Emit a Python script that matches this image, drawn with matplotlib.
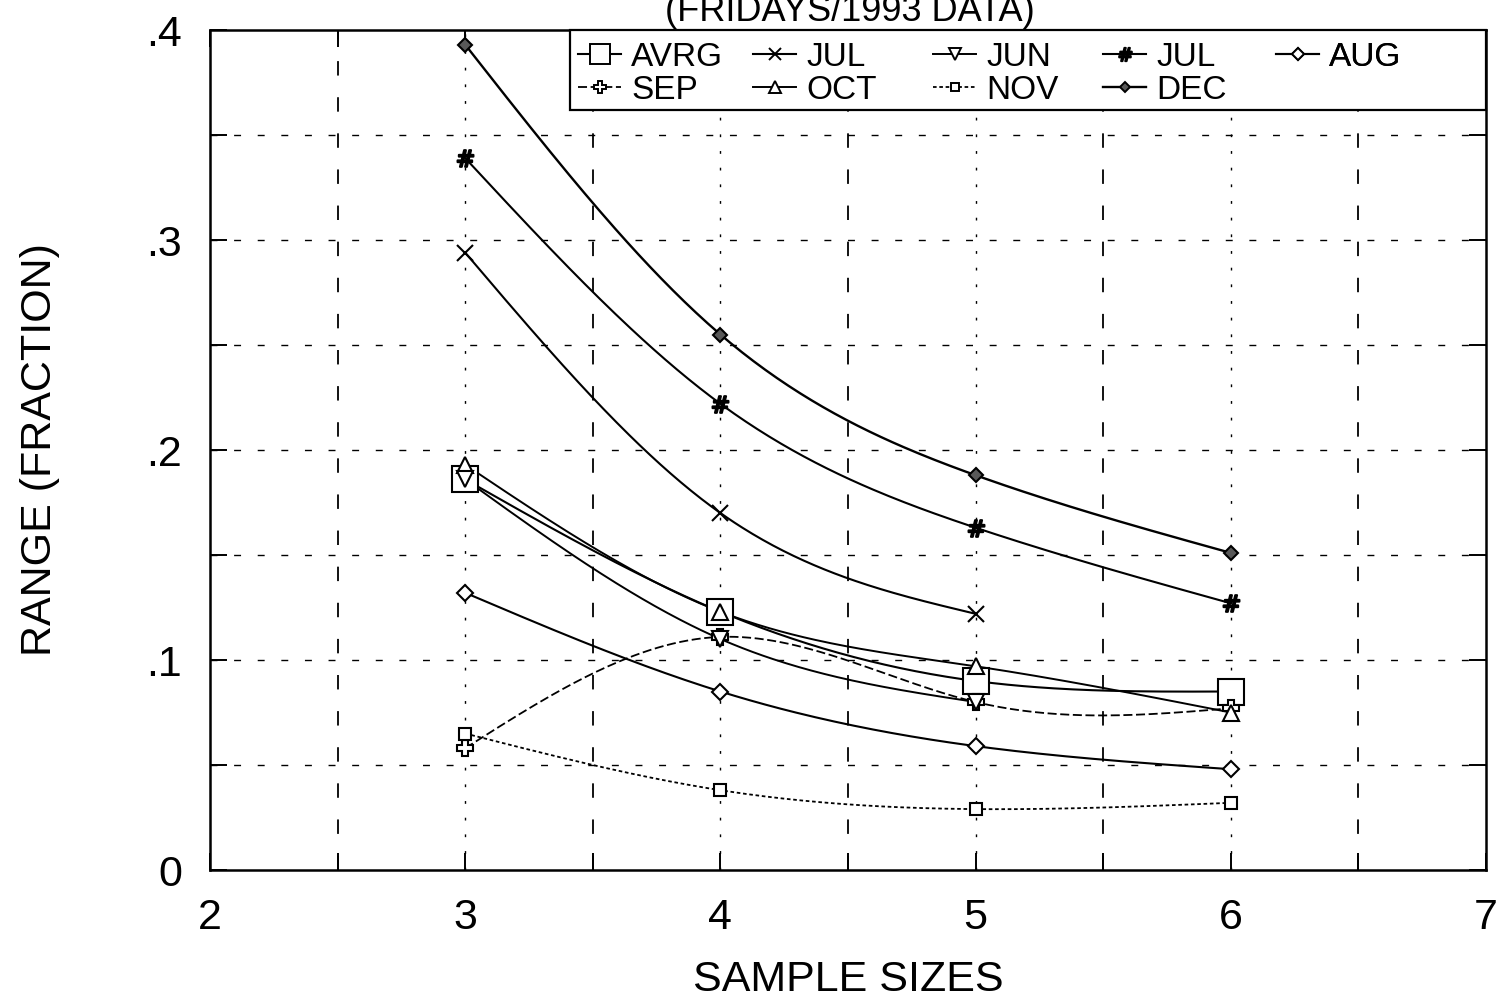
import numpy as np
import matplotlib
matplotlib.use("Agg")
import matplotlib.pyplot as plt
from matplotlib.lines import Line2D
from matplotlib.patches import Rectangle

# ---- data -------------------------------------------------------------
sizes_full = [3, 4, 5, 6]
sizes_short = [3, 4, 5]

avrg = [0.186, 0.123, 0.090, 0.085]
jul_x = [0.294, 0.170, 0.122]
jun = [0.186, 0.110, 0.080]
jul_h = [0.339, 0.222, 0.163, 0.127]
aug = [0.132, 0.085, 0.059, 0.048]
sep = [0.058, 0.111, 0.080, 0.077]
oct_ = [0.193, 0.123, 0.097, 0.075]
nov = [0.065, 0.038, 0.029, 0.032]
dec = [0.393, 0.255, 0.188, 0.151]

x_ticks = [2, 3, 4, 5, 6, 7]
y_ticks = [0.0, 0.1, 0.2, 0.3, 0.4]
y_tick_labels = ["0", ".1", ".2", ".3", ".4"]

plt.rcParams["font.family"] = ["Liberation Sans", "DejaVu Sans"]


def natural_spline(x, y, n=200):
    """Smooth natural cubic spline through the given points."""
    x = np.asarray(x, float)
    y = np.asarray(y, float)
    k = len(x)
    if k < 3:
        xs = np.linspace(x[0], x[-1], n)
        return xs, np.interp(xs, x, y)
    h = np.diff(x)
    A = np.zeros((k, k))
    b = np.zeros(k)
    A[0, 0] = A[-1, -1] = 1.0
    for i in range(1, k - 1):
        A[i, i - 1] = h[i - 1]
        A[i, i] = 2 * (h[i - 1] + h[i])
        A[i, i + 1] = h[i]
        b[i] = 3 * ((y[i + 1] - y[i]) / h[i] - (y[i] - y[i - 1]) / h[i - 1])
    c = np.linalg.solve(A, b)
    xs = np.linspace(x[0], x[-1], n)
    ys = np.empty_like(xs)
    for j, xv in enumerate(xs):
        i = min(np.searchsorted(x, xv, side="right") - 1, k - 2)
        dx = xv - x[i]
        bi = (y[i + 1] - y[i]) / h[i] - h[i] * (2 * c[i] + c[i + 1]) / 3
        di = (c[i + 1] - c[i]) / (3 * h[i])
        ys[j] = y[i] + bi * dx + c[i] * dx ** 2 + di * dx ** 3
    return xs, ys


W, H = 1504, 1006
fig = plt.figure(figsize=(W / 100, H / 100), dpi=100)
ax = fig.add_axes([210 / W, 1 - 870 / H, 1276 / W, 840 / H])

series = {
    # key: label, x, y, marker, markersize, line style, line width, face
    "avrg": ("AVRG", sizes_full, avrg, "s", 19, "-", 1.5, "white"),
    "sep": ("SEP", sizes_full, sep, "P", 11, (0, (5, 2)), 1.3, "white"),
    "jul_x": ("JUL", sizes_short, jul_x, "x", 11, "-", 1.5, "none"),
    "oct": ("OCT", sizes_full, oct_, "^", 11, "-", 1.4, "white"),
    "jun": ("JUN", sizes_short, jun, "v", 11, "-", 1.4, "white"),
    "nov": ("NOV", sizes_full, nov, "s", 8, (0, (2, 1.5)), 1.3, "white"),
    "jul_h": ("JUL", sizes_full, jul_h, r"$\#$", 12, "-", 1.5, "black"),
    "dec": ("DEC", sizes_full, dec, "D", 7, "-", 1.7, "0.35"),
    "aug": ("AUG", sizes_full, aug, "D", 8, "-", 1.5, "white"),
}

handles = {}
for key, (label, xs, ys, mk, ms, ls, lw, mfc) in series.items():
    sx, sy = natural_spline(xs, ys)
    ax.plot(sx, sy, color="black", linestyle=ls, linewidth=lw, zorder=3)
    ax.plot(xs, ys, linestyle="none", marker=mk, markersize=ms,
            markerfacecolor=mfc, markeredgecolor="black",
            markeredgewidth=1.5, color="black", zorder=4)
    handles[key] = Line2D([0], [0], color="black", linestyle=ls,
                          linewidth=lw, marker=mk,
                          markersize=min(ms * 0.8, 15), markerfacecolor=mfc,
                          markeredgecolor="black", markeredgewidth=1.4,
                          label=label)

ax.set_xlim(2, 7)
ax.set_ylim(0, 0.4)

# grid: dashed at half steps, dotted at whole steps
for xv in np.arange(2.5, 7.0, 0.5):
    if abs(xv - round(xv)) < 1e-9:
        ax.axvline(xv, color="black", linewidth=1.0,
                   linestyle=(0, (2, 10)), zorder=1)
    else:
        ax.axvline(xv, color="black", linewidth=1.3,
                   linestyle=(0, (8, 12)), zorder=1)
for yv in np.arange(0.05, 0.4, 0.05):
    ax.axhline(yv, color="black", linewidth=1.0,
               linestyle=(0, (5, 12)), zorder=1)

ax.set_xticks(x_ticks)
ax.set_xticks(np.arange(2.5, 7.0, 1.0), minor=True)
ax.set_yticks(y_ticks)
ax.set_yticks(np.arange(0.05, 0.4, 0.1), minor=True)
ax.set_yticklabels(y_tick_labels)
ax.tick_params(axis="both", which="both", direction="in",
               top=True, right=True, width=1.4, color="black")
ax.tick_params(axis="both", which="major", length=12, labelsize=31)
ax.tick_params(axis="both", which="minor", length=12)
ax.tick_params(axis="x", which="major", pad=20)
ax.tick_params(axis="y", which="major", pad=20)

for sp in ax.spines.values():
    sp.set_linewidth(1.8)
    sp.set_color("black")

ax.set_xlabel("SAMPLE SIZES", fontsize=31, labelpad=16)
ax.set_ylabel("RANGE (FRACTION)", fontsize=31)
ax.yaxis.set_label_coords((60 - 210) / 1276, 0.5)

fig.text(0.565, 1 - 21 / H, "(FRIDAYS/1993 DATA)", fontsize=26,
         ha="center", va="baseline")

# legend: boxed panel in the upper right, five fixed-pitch columns
ax.add_patch(Rectangle((360 / 1276, (870 - 110) / 840), 916 / 1276,
                       80 / 840, transform=ax.transAxes, facecolor="white",
                       edgecolor="black", linewidth=1.6, zorder=5,
                       clip_on=False))
columns = [["avrg", "sep"], ["jul_x", "oct"], ["jun", "nov"],
           ["jul_h", "dec"], ["aug"]]
col_left_px = [578, 753, 933, 1103, 1276]
for keys, left in zip(columns, col_left_px):
    lg = ax.legend(handles=[handles[k] for k in keys], loc="upper left",
                   bbox_to_anchor=((left - 210) / 1276, (870 - 42) / 840),
                   frameon=False, fontsize=24, handlelength=1.3,
                   handletextpad=0.3, borderpad=0.0, labelspacing=0.05,
                   borderaxespad=0.0)
    lg.set_zorder(6)
    ax.add_artist(lg)

fig.savefig("out.png", dpi=100, facecolor="white")
